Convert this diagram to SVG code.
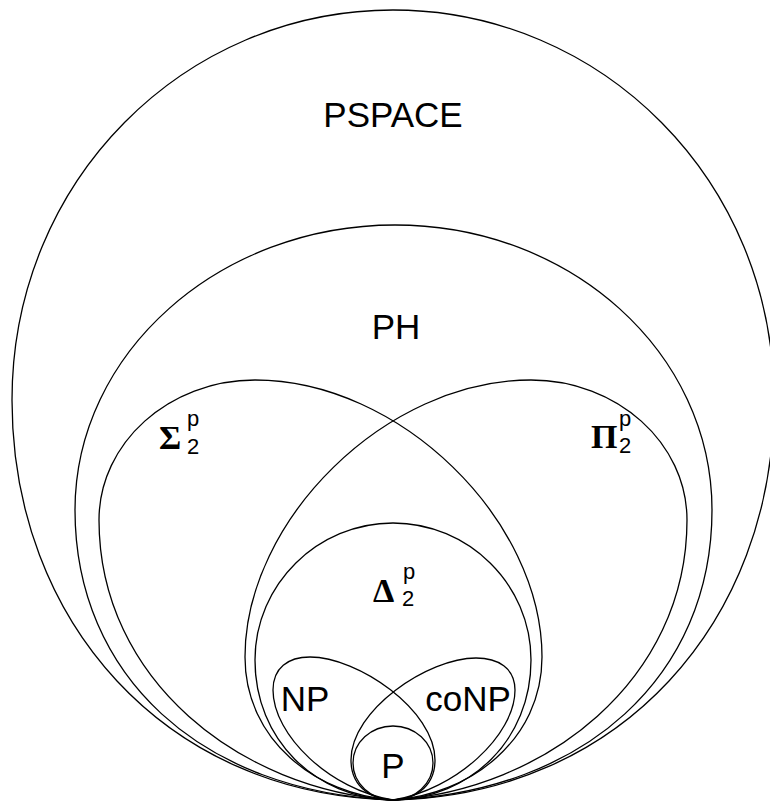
<svg xmlns="http://www.w3.org/2000/svg" width="770" height="805" viewBox="0 0 770 805">
<style>
.s{fill:none;stroke:#000;stroke-width:1.3}
.t{font-family:"Liberation Sans",Arial,sans-serif;font-size:35px;fill:#000;text-anchor:middle}
.g{font-family:"Liberation Serif","Times New Roman",serif;font-size:34px;font-weight:bold;fill:#000}
.i{font-family:"Liberation Sans",Arial,sans-serif;font-size:22px;fill:#000}
</style>
<rect width="770" height="805" fill="#fff"/>
<g id="PSPACE">
<path class="s" d="M393,800 C165,795 12,621 12,400 C12,180 185,10 393,10 C601,10 774,180 774,400 C774,621 621,795 393,800 Z"/>
<text class="t" x="393" y="127">PSPACE</text>
</g>
<g id="PH">
<path class="s" d="M393,800 C200,792 75,675 75,510 C75,353 219,225 395,225 C571,225 712,353 712,510 C712,675 586,792 393,800 Z"/>
<text class="t" x="396" y="339">PH</text>
</g>
<g id="Sigma2p">
<path class="s" d="M393,800 C240,790 99,680 99,520 C99,443 169,380 255,380 C400,380 542,520 542,657 C542,740 470,795 393,800 Z"/>
<text class="g" x="159" y="449">Σ</text>
<text class="i" x="187" y="426">p</text>
<text class="i" x="187" y="454">2</text>
</g>
<g id="Pi2p">
<path class="s" d="M393,800 C546,790 687,680 687,520 C687,443 617,380 531,380 C386,380 245,520 245,657 C245,740 316,795 393,800 Z"/>
<text class="g" x="591" y="448">Π</text>
<text class="i" x="619" y="426">p</text>
<text class="i" x="619" y="453">2</text>
</g>
<g id="Delta2p">
<path class="s" d="M393,800 C315,798 255,740 255,660 C255,584 318,523 393,523 C468,523 531,584 531,660 C531,740 471,798 393,800 Z"/>
<text class="g" x="373" y="602">Δ</text>
<text class="i" x="403" y="579">p</text>
<text class="i" x="402" y="606">2</text>
</g>
<g id="NP">
<path class="s" d="M393,800 C330,790 273,735 273,690 C273,668 288,657 310,657 C358,657 435,710 435,760 C435,790 410,800 393,800 Z"/>
<text class="t" x="305" y="711">NP</text>
</g>
<g id="coNP">
<path class="s" d="M393,800 C456,790 515,735 515,690 C515,668 498,658 476,658 C428,658 351,710 351,760 C351,790 376,800 393,800 Z"/>
<text class="t" x="468" y="711">coNP</text>
</g>
<g id="P">
<ellipse class="s" cx="393" cy="763" rx="40" ry="37"/>
<text class="t" x="393" y="778">P</text>
</g>
</svg>
